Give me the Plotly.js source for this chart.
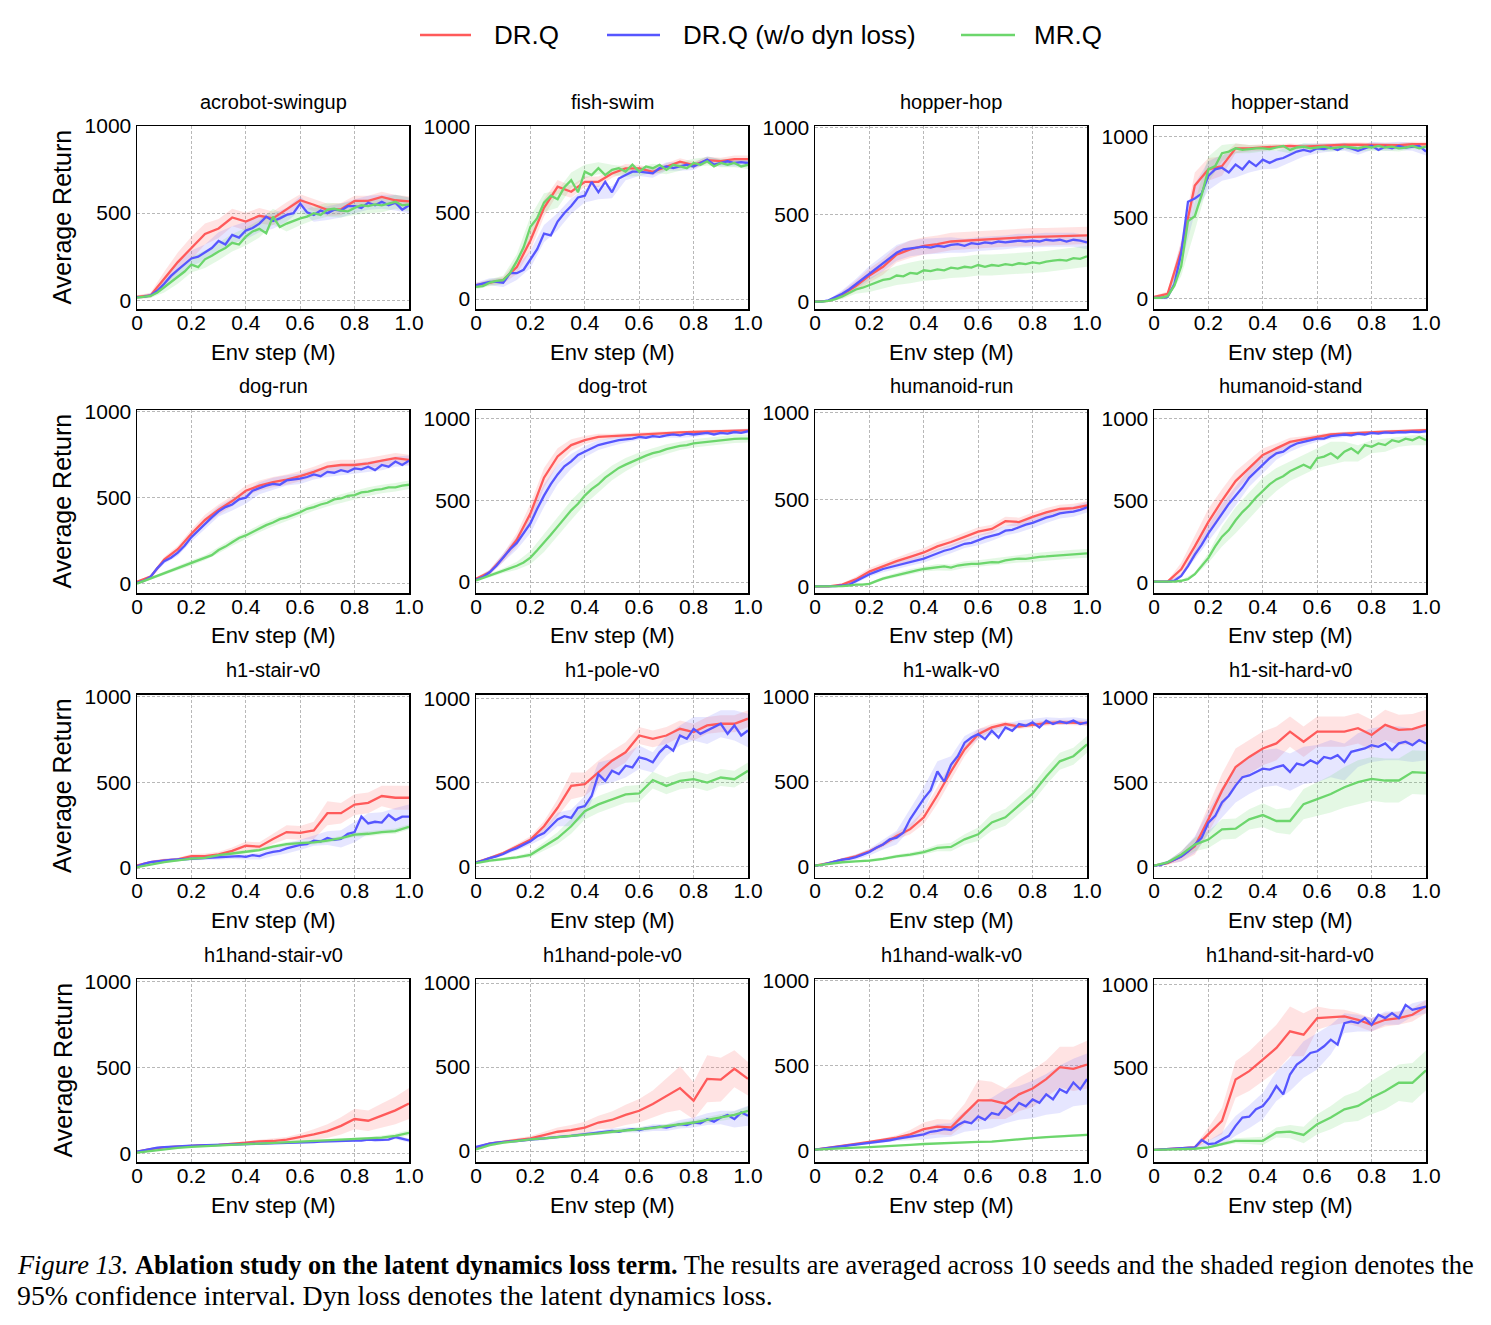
<!DOCTYPE html>
<html>
<head>
<meta charset="utf-8">
<script src="https://cdn.plot.ly/plotly-3.0.1.min.js"></script>
<style>html,body{margin:0;padding:0;background:#fff;}</style>
</head>
<body>
<div id="chart" style="width:1491px;height:1325px;"></div>
<script>
// Task names, in panel order (row by row)
const envNames = [
  'acrobot-swingup', 'fish-swim', 'hopper-hop', 'hopper-stand',
  'dog-run', 'dog-trot', 'humanoid-run', 'humanoid-stand',
  'h1-stair-v0', 'h1-pole-v0', 'h1-walk-v0', 'h1-sit-hard-v0',
  'h1hand-stair-v0', 'h1hand-pole-v0', 'h1hand-walk-v0', 'h1hand-sit-hard-v0'
];

// DR.Q mean return, evaluated every 0.05M steps
const drqMean = [
  [19,28,124,219,300,380,412,475,452,485,470,523,574,548,519,523,570,570,593,574,567],
  [80,95,110,185,340,530,652,623,681,681,729,759,759,739,768,798,778,807,801,813,813],
  [0,5,40,90,150,200,270,300,320,330,345,350,355,360,365,370,372,373,375,378,380],
  [10,30,300,700,800,820,930,930,935,940,945,940,945,948,952,952,950,948,950,955,955],
  [10,40,140,200,290,370,430,480,540,570,590,605,625,650,680,690,690,700,715,730,720],
  [20,60,150,260,420,640,770,840,870,890,895,900,905,910,915,918,920,922,925,928,930],
  [0,0,10,40,85,115,145,170,195,230,255,285,315,330,375,370,400,425,445,450,465],
  [5,5,80,220,370,500,620,700,780,820,860,875,890,905,910,915,920,922,925,928,932],
  [15,35,45,50,70,70,80,100,130,125,170,210,205,220,320,320,370,380,420,410,410],
  [25,50,80,120,160,240,350,480,490,560,630,680,780,760,780,820,800,840,850,850,880],
  [5,20,40,60,90,130,180,220,290,420,560,690,780,820,840,825,835,845,850,848,845],
  [5,20,60,120,280,450,590,650,700,730,800,740,800,800,800,820,780,840,810,815,840],
  [10,25,35,40,45,48,50,55,62,70,72,80,95,110,130,160,200,190,220,250,290],
  [20,45,55,65,75,95,115,125,140,170,185,215,240,280,330,375,300,430,425,490,430],
  [5,15,28,38,50,62,75,95,125,140,135,215,295,295,275,330,365,420,490,480,505],
  [5,10,15,20,100,180,430,480,550,620,720,700,800,805,810,790,760,790,800,820,870]
];
// DR.Q 95% CI half-width, every 0.05M steps
const drqCI = [
  [10,15,40,55,65,60,55,50,50,45,40,40,35,35,35,35,30,30,30,30,30],
  [15,15,20,40,60,50,40,35,30,30,25,25,20,20,20,20,20,20,20,20,20],
  [3,5,20,30,40,45,45,50,50,50,50,50,50,50,50,50,50,50,50,50,50],
  [8,15,60,80,70,60,30,20,20,15,15,15,15,15,15,15,15,15,15,15,15],
  [5,10,15,20,25,30,30,30,30,30,30,30,30,30,30,30,30,30,30,30,30],
  [8,15,25,40,60,60,50,35,25,20,15,15,12,12,10,10,10,10,10,10,10],
  [2,3,8,15,20,20,20,25,25,25,25,25,25,25,25,25,25,25,25,25,25],
  [3,5,40,70,80,70,60,50,40,30,25,20,15,12,12,10,10,10,10,10,10],
  [5,8,10,10,12,15,15,20,25,25,30,40,40,50,70,60,60,60,60,70,70],
  [5,8,10,15,20,30,50,80,70,70,60,60,50,50,50,50,50,50,50,50,50],
  [3,5,8,10,12,15,20,30,40,50,50,40,30,20,15,15,15,15,15,15,15],
  [5,10,30,50,80,100,110,100,100,100,90,90,90,90,90,90,90,90,90,90,90],
  [5,5,5,5,5,5,5,8,10,10,12,15,20,30,40,50,60,60,70,80,90],
  [8,8,10,12,15,20,25,30,35,40,50,60,70,80,100,130,110,140,130,110,100],
  [3,5,5,5,8,10,15,25,40,45,45,60,120,110,90,100,110,110,120,130,140],
  [3,5,5,8,40,80,110,120,130,140,150,130,70,50,40,40,40,40,40,40,40]
];

// DR.Q without the dynamics loss, mean return every 0.025M steps
const noDynMean = [
  [18,20,28,55,95,140,175,210,240,250,275,300,340,320,375,360,400,415,440,480,455,470,490,500,555,505,490,515,500,520,515,540,540,530,560,545,565,545,560,520,545],
  [80,90,100,100,95,150,150,170,230,290,380,370,450,500,540,590,600,680,620,680,620,700,720,740,740,735,730,760,770,760,770,780,770,790,810,780,790,800,790,795,790],
  [0,0,8,25,45,70,100,130,165,190,220,250,280,300,305,310,315,310,320,315,325,330,320,335,330,340,335,345,340,345,350,345,350,345,355,350,355,345,355,350,340],
  [5,5,10,90,280,600,620,650,760,800,810,780,830,800,850,820,860,840,860,870,890,910,920,910,930,925,935,920,940,930,915,930,945,920,940,930,945,935,940,945,910],
  [5,15,40,90,130,150,180,220,270,310,350,385,420,445,460,490,500,540,555,570,580,575,600,605,610,620,635,625,650,645,660,650,670,665,680,660,690,680,710,690,715],
  [15,30,60,100,150,200,240,300,360,450,530,600,660,710,740,780,800,820,840,850,860,870,875,880,890,885,895,890,900,905,900,910,905,910,915,905,915,910,920,915,925],
  [0,0,0,2,5,10,30,50,70,85,100,110,120,130,140,150,160,175,190,205,215,230,245,250,265,280,290,300,320,325,340,355,365,380,395,405,420,425,430,440,455],
  [5,5,5,10,40,100,170,230,300,360,420,480,530,580,640,680,720,760,790,800,830,850,860,870,880,880,895,900,905,900,910,905,915,910,918,915,920,918,922,920,925],
  [10,25,35,40,45,48,50,52,55,55,58,60,60,65,65,70,65,75,70,85,95,100,115,125,135,140,160,155,175,165,170,200,210,300,260,270,265,310,280,300,300],
  [25,35,50,60,75,95,110,130,150,180,200,240,280,300,290,350,360,420,550,510,570,550,600,590,650,640,620,680,720,690,780,760,820,790,810,830,850,790,840,780,810],
  [5,10,20,30,40,45,55,70,85,110,130,160,170,200,280,340,400,450,560,500,600,650,730,760,780,750,800,760,820,800,840,830,850,820,860,840,855,845,860,840,850],
  [5,10,25,40,60,90,130,170,260,300,380,420,480,530,540,560,580,575,590,600,560,610,600,630,610,650,640,660,620,680,690,700,720,710,730,690,730,740,720,750,730],
  [10,18,28,33,37,40,42,44,45,46,47,48,49,50,50,52,54,55,56,57,58,59,60,62,63,64,66,68,70,71,72,73,74,75,80,78,79,80,95,85,75],
  [25,35,45,50,55,58,60,65,70,72,75,80,85,88,90,95,100,105,110,115,120,115,125,130,125,135,140,145,140,150,160,155,170,165,190,175,200,215,190,230,210],
  [5,10,15,20,25,28,32,38,45,50,55,60,68,75,80,90,95,110,115,125,120,150,170,160,200,180,220,210,260,230,280,260,300,280,330,300,360,340,400,360,420],
  [5,8,10,12,15,18,20,65,40,45,70,90,150,200,205,250,270,320,390,340,460,520,550,590,600,630,670,640,770,780,770,800,760,820,800,830,800,880,850,860,870]
];
// DR.Q without the dynamics loss, 95% CI half-width every 0.05M steps
const noDynCI = [
  [8,12,30,40,45,45,50,50,50,50,45,40,40,40,40,40,40,40,40,45,45],
  [15,20,25,40,50,50,50,45,40,40,35,30,25,25,25,25,20,20,20,20,20],
  [3,5,20,30,40,45,45,45,45,45,45,40,40,40,40,40,40,40,40,40,40],
  [8,15,70,90,90,80,80,70,60,55,50,40,30,25,25,25,25,25,25,25,25],
  [5,10,15,20,25,30,30,35,35,35,35,30,30,30,30,30,30,30,30,30,30],
  [8,15,25,40,60,70,60,45,35,30,25,20,18,15,15,15,15,15,15,15,15],
  [2,3,5,10,15,18,20,22,22,25,25,25,28,28,28,30,30,30,30,30,30],
  [3,5,8,30,50,60,60,55,50,40,30,25,20,18,15,15,12,12,12,12,12],
  [5,8,10,10,10,10,12,12,15,20,25,30,30,30,40,50,60,60,60,70,70],
  [5,8,10,15,20,30,40,50,60,70,70,70,70,60,60,60,70,80,80,90,100],
  [3,5,10,15,20,30,40,60,70,60,50,40,30,25,20,20,20,20,20,20,20],
  [5,10,30,50,70,90,100,110,110,110,110,110,110,110,110,100,100,100,100,100,100],
  [4,4,4,4,4,4,4,4,4,5,5,5,5,5,6,6,8,8,10,12,12],
  [8,8,8,8,8,10,10,10,12,12,15,15,15,20,20,25,30,35,40,50,60],
  [3,5,5,5,8,10,12,20,30,40,40,60,80,90,100,100,110,120,140,140,150],
  [3,4,5,8,20,40,60,70,80,90,100,110,110,90,60,50,40,40,40,40,40]
];

// MR.Q mean return (DMC tasks every 0.025M steps, HumanoidBench tasks every 0.05M steps)
const mrqMean = [
  [15,18,25,45,75,105,135,165,205,190,235,255,280,300,330,320,365,395,410,385,480,420,440,455,470,480,500,490,520,525,515,510,530,545,540,550,545,555,565,545,550],
  [70,75,95,105,110,150,220,300,420,470,560,600,580,650,690,620,740,720,760,720,750,760,740,780,740,770,760,780,750,780,770,760,790,780,800,770,790,780,790,770,780],
  [0,0,5,15,30,50,70,80,95,110,125,130,150,145,165,160,180,175,185,180,195,190,200,195,210,200,210,205,215,210,220,215,225,220,230,235,240,235,250,245,260],
  [5,5,15,80,200,480,510,640,800,820,900,910,930,920,925,930,930,925,935,945,920,935,940,930,935,940,930,935,940,935,930,940,935,945,935,940,930,935,945,930,940],
  [0,15,30,45,60,75,90,105,120,135,150,165,195,215,240,265,280,300,320,340,355,375,385,400,415,435,445,460,470,490,495,510,515,530,535,545,550,560,560,570,575],
  [10,25,40,55,70,85,100,120,150,195,240,290,340,390,440,480,530,570,600,640,670,700,720,740,760,775,790,800,815,825,835,840,850,855,860,865,870,875,878,880,880],
  [0,0,0,0,2,5,10,10,15,30,45,55,65,75,85,92,100,105,110,115,108,120,125,130,130,135,140,138,150,155,160,158,165,170,172,175,180,182,185,190,190],
  [5,5,5,5,10,20,50,100,150,220,280,320,380,430,470,520,560,600,630,650,680,700,720,700,760,770,790,760,800,820,790,840,830,850,840,870,860,880,870,890,870],
  [5,20,35,45,55,60,75,85,95,105,125,140,145,150,160,175,195,200,210,215,240],
  [20,35,45,55,70,120,170,240,330,370,400,430,435,515,480,510,520,500,530,520,570],
  [5,15,25,30,35,45,60,70,85,110,115,160,190,260,290,360,430,530,620,650,720],
  [5,25,70,130,160,220,225,280,305,270,270,370,400,430,470,500,520,510,510,560,555],
  [5,15,25,32,38,42,46,50,54,57,60,63,66,70,74,78,82,86,92,102,120],
  [10,35,50,60,70,75,82,90,98,105,115,122,130,138,148,158,170,185,200,215,240],
  [5,10,14,17,20,23,27,33,38,42,45,48,50,52,60,68,72,78,83,88,92],
  [5,8,10,12,20,40,60,60,60,110,115,95,160,200,250,270,320,360,410,410,485]
];
// MR.Q 95% CI half-width every 0.05M steps
const mrqCI = [
  [8,12,30,40,45,50,50,50,50,50,45,45,40,40,40,40,40,40,40,40,40],
  [15,20,25,40,60,55,50,45,40,35,30,30,25,25,25,25,25,25,25,25,25],
  [3,5,15,25,40,50,55,60,60,60,60,60,60,60,60,60,60,60,60,60,60],
  [8,15,60,90,80,50,30,25,20,20,20,20,20,20,20,20,20,20,20,20,20],
  [5,8,10,12,15,15,18,20,20,22,22,22,22,22,22,25,25,25,25,25,25],
  [8,12,15,25,40,55,60,60,55,50,45,40,35,30,30,25,25,25,25,25,25],
  [2,3,3,5,8,10,12,15,15,18,18,20,20,20,22,22,25,25,25,25,25],
  [3,5,5,10,30,60,80,80,80,70,60,60,60,70,60,50,40,40,30,30,30],
  [3,5,5,5,8,8,8,10,10,10,10,12,12,12,12,12,12,15,15,15,15],
  [5,8,10,10,15,25,35,45,50,50,50,50,50,50,50,50,50,50,50,50,50],
  [3,5,5,5,8,10,10,12,15,20,25,30,40,50,50,50,50,50,50,50,50],
  [5,10,20,40,50,60,60,60,70,70,80,90,100,110,120,130,130,130,130,130,130],
  [3,4,4,4,4,5,5,5,5,5,5,6,6,6,8,8,8,10,12,14,16],
  [5,8,8,8,8,8,8,8,10,10,10,10,12,12,12,15,15,18,20,22,25],
  [3,3,3,3,3,4,4,4,4,4,5,5,5,5,6,6,6,7,7,8,8],
  [3,3,3,3,5,10,15,20,25,30,40,50,60,70,80,90,100,110,110,120,120]
];

// y-axis limits per panel
const yRanges = [
  [-50,1000],[-58,1005],[-42,1007],[-64,1068],
  [-55,1010],[-67,1055],[-38,1014],[-65,1055],
  [-55,1012],[-65,1024],[-65,1014],[-65,1020],
  [-50,1014],[-65,1024],[-68,1009],[-68,1036]
];

const xTickVals = [0, 0.2, 0.4, 0.6, 0.8, 1.0];
const xTickText = ['0', '0.2', '0.4', '0.6', '0.8', '1.0'];
const yTickVals = [0, 500, 1000];

const W = 1491, H = 1325;
const colLeft = [137, 476, 815, 1154];
const rowTop = [126, 410, 694.5, 979];
const boxW = 272, boxH = 183;

const SANS = 'Liberation Sans, Arial, Helvetica, sans-serif';
const SERIF = 'Liberation Serif, Times New Roman, serif';

const series = [
  {name: 'DR.Q', mean: drqMean, ci: drqCI, color: '#ff5a5a', fill: 'rgba(255,90,90,0.17)', key: [420, 471, 492]},
  {name: 'DR.Q (w/o dyn loss)', mean: noDynMean, ci: noDynCI, color: '#5656ff', fill: 'rgba(86,86,255,0.15)', key: [607, 660, 681]},
  {name: 'MR.Q', mean: mrqMean, ci: mrqCI, color: '#6cd66c', fill: 'rgba(108,214,108,0.18)', key: [961, 1015, 1032]}
];

const bandTraces = [], lineTraces = [];
const layout = {
  width: W, height: H,
  margin: {l: 0, r: 0, t: 0, b: 0},
  paper_bgcolor: '#fff', plot_bgcolor: '#fff',
  showlegend: false,
  annotations: [],
  shapes: []
};

envNames.forEach((env, p) => {
  const r = Math.floor(p / 4), c = p % 4;
  const sfx = p === 0 ? '' : String(p + 1);

  series.forEach((s) => {
    const y = s.mean[p];
    const n = y.length;
    const x = y.map((_, i) => i / (n - 1));
    const step = (n - 1) / (s.ci[p].length - 1);
    const bx = [], lo = [], hi = [];
    s.ci[p].forEach((h, k) => {
      const i = k * step;
      bx.push(x[i]); lo.push(y[i] - h); hi.push(y[i] + h);
    });
    bandTraces.push({
      type: 'scatter', mode: 'lines',
      x: bx.concat(bx.slice().reverse()),
      y: hi.concat(lo.slice().reverse()),
      fill: 'toself', fillcolor: s.fill, line: {width: 0, color: s.fill},
      hoverinfo: 'skip', showlegend: false,
      xaxis: 'x' + sfx, yaxis: 'y' + sfx
    });
    lineTraces.push({
      type: 'scatter', mode: 'lines', name: s.name,
      x: x, y: y,
      line: {color: s.color, width: 2.3},
      showlegend: false,
      xaxis: 'x' + sfx, yaxis: 'y' + sfx
    });
  });

  const common = {
    showline: true, mirror: true, linecolor: '#000', linewidth: 1.5,
    showgrid: true, gridcolor: '#b0b0b0', gridwidth: 0.9, griddash: '3px,2px',
    zeroline: false, ticks: '', ticklen: 0, fixedrange: true,
    tickfont: {family: SANS, size: 21, color: '#000'}
  };
  layout['xaxis' + sfx] = Object.assign({}, common, {
    domain: [colLeft[c] / W, (colLeft[c] + boxW) / W],
    anchor: 'y' + sfx, range: [0, 1],
    tickmode: 'array', tickvals: xTickVals, ticktext: xTickText,
    ticklabelstandoff: -6
  });
  layout['yaxis' + sfx] = Object.assign({}, common, {
    domain: [1 - (rowTop[r] + boxH) / H, 1 - rowTop[r] / H],
    anchor: 'x' + sfx, range: yRanges[p],
    tickmode: 'array', tickvals: yTickVals,
    ticklabelstandoff: 0
  });

  // panel title
  layout.annotations.push({
    text: env, showarrow: false,
    xref: 'x' + sfx + ' domain', yref: 'y' + sfx + ' domain',
    x: 0.5, y: 1, xanchor: 'center', yanchor: 'middle', yshift: 24,
    font: {family: SANS, size: 20, color: '#000'}
  });
  // x-axis title
  layout.annotations.push({
    text: 'Env step (M)', showarrow: false,
    xref: 'x' + sfx + ' domain', yref: 'y' + sfx + ' domain',
    x: 0.5, y: 0, xanchor: 'center', yanchor: 'middle', yshift: -43,
    font: {family: SANS, size: 22, color: '#000'}
  });
  // y-axis title on the first column
  if (c === 0) {
    layout.annotations.push({
      text: 'Average Return', showarrow: false, textangle: -90,
      xref: 'x' + sfx + ' domain', yref: 'y' + sfx + ' domain',
      x: 0, y: 0.5, xanchor: 'center', yanchor: 'middle', xshift: -75,
      font: {family: SANS, size: 25, color: '#000'}
    });
  }
});

// shared key above the grid
const keyY = 1 - 35 / H;
series.forEach((s) => {
  layout.shapes.push({
    type: 'line', xref: 'paper', yref: 'paper',
    x0: s.key[0] / W, x1: s.key[1] / W, y0: keyY, y1: keyY,
    line: {color: s.color, width: 2.5}
  });
  layout.annotations.push({
    text: s.name, showarrow: false, xref: 'paper', yref: 'paper',
    x: s.key[2] / W, y: keyY, xanchor: 'left', yanchor: 'middle',
    font: {family: SANS, size: 26, color: '#000'}
  });
});

// figure caption
layout.annotations.push({
  text: '<i>Figure 13.</i> <b>Ablation study on the latent dynamics loss term.</b> The results are averaged across 10 seeds and the shaded region denotes the',
  showarrow: false, xref: 'paper', yref: 'paper',
  x: 15 / W, y: 1 - 1265 / H, xanchor: 'left', yanchor: 'middle',
  font: {family: SERIF, size: 26.4, color: '#000'}
});
layout.annotations.push({
  text: '95% confidence interval. Dyn loss denotes the latent dynamics loss.',
  showarrow: false, xref: 'paper', yref: 'paper',
  x: 15 / W, y: 1 - 1295 / H, xanchor: 'left', yanchor: 'middle',
  font: {family: SERIF, size: 27.8, color: '#000'}
});

Plotly.newPlot('chart', bandTraces.concat(lineTraces), layout, {displayModeBar: false, staticPlot: true});
</script>
</body>
</html>
